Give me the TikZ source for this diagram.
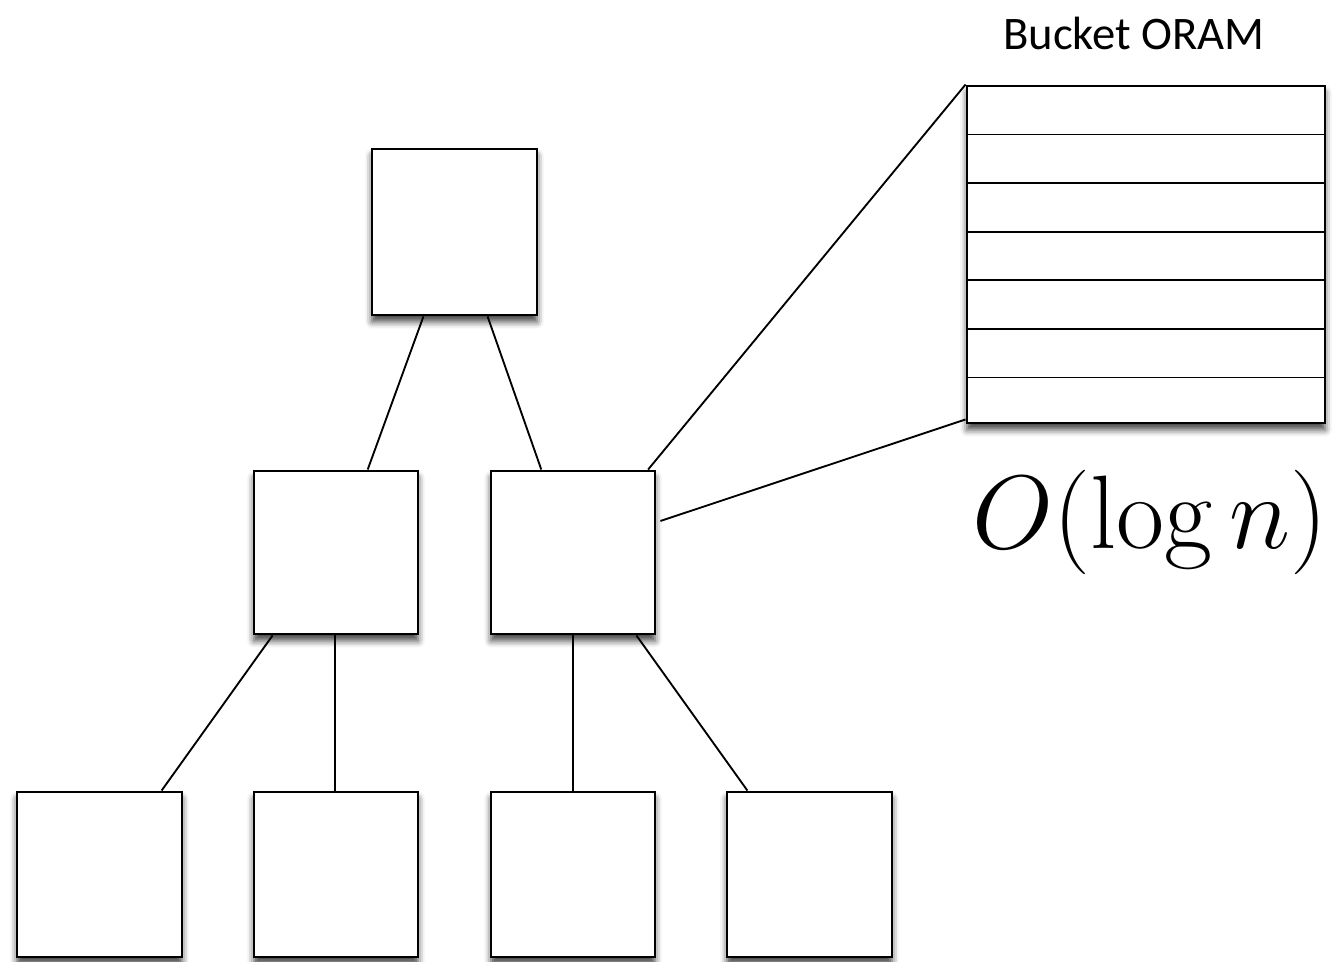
\documentclass[tikz,border=0pt]{standalone}
\usepackage{fontspec}
\newfontfamily\labelfont{Carlito}
\usetikzlibrary{fit,calc,shadows.blur}

\tikzset{
  box/.style={draw=black, line width=2.2pt, fill=white, inner sep=0pt,
    blur shadow={shadow xshift=0pt, shadow yshift=-5pt,
      shadow blur radius=5pt, shadow opacity=75}},
  link/.style={draw=black, line width=1.4pt},
  row/.style={draw=black, line width=1.2pt},
}

\begin{document}
\begin{tikzpicture}[x=0.75pt, y=-0.75pt]
  \useasboundingbox (0,0) rectangle (1341,962);

  % tree buckets
  \node[box, fit={(372,149) (537,315)}] (root) {};
  \node[box, fit={(254,471) (418,634)}] (ml) {};
  \node[box, fit={(491,471) (655,634)}] (mr) {};
  \node[box, fit={(17,792) (182,957)}]  (b1) {};
  \node[box, fit={(254,792) (418,957)}] (b2) {};
  \node[box, fit={(491,792) (655,957)}] (b3) {};
  \node[box, fit={(727,792) (892,957)}] (b4) {};

  % enlarged bucket
  \node[box, fit={(967,86) (1325,423)}] (bucket) {};
  \foreach \k in {1,...,6}
    \draw[row] ($(bucket.north west)!\k/7!(bucket.south west)+(0,1.5)$)
            -- ($(bucket.north east)!\k/7!(bucket.south east)+(0,1.5)$);

  % tree edges
  \draw[link] ($(root.south west)!0.315!(root.south east)$) -- ($(ml.north west)!0.69!(ml.north east)$);
  \draw[link] ($(root.south west)!0.697!(root.south east)$) -- ($(mr.north west)!0.31!(mr.north east)$);
  \draw[link] ($(ml.south west)!0.12!(ml.south east)$) -- ($(b1.north west)!0.87!(b1.north east)$);
  \draw[link] ($(ml.south west)!0.495!(ml.south east)$) -- ($(b2.north west)!0.495!(b2.north east)$);
  \draw[link] ($(mr.south west)!0.5!(mr.south east)$) -- ($(b3.north west)!0.5!(b3.north east)$);
  \draw[link] ($(mr.south west)!0.88!(mr.south east)$) -- ($(b4.north west)!0.13!(b4.north east)$);

  % zoom lines to the enlarged bucket
  \draw[link] ($(mr.north west)!0.95!(mr.north east)$) -- (bucket.north west);
  \draw[link] ($(mr.north east)!0.31!(mr.south east)+(4,0)$) -- ($(bucket.south west)+(0,-5)$);

  % labels
  \node[font=\labelfont\fontsize{35}{38}\selectfont] (title) at (1134,33) {Bucket ORAM};
  \node[font=\Huge, scale=3.15] (size) at (1150,522) {$O(\log n)$};
\end{tikzpicture}
\end{document}
